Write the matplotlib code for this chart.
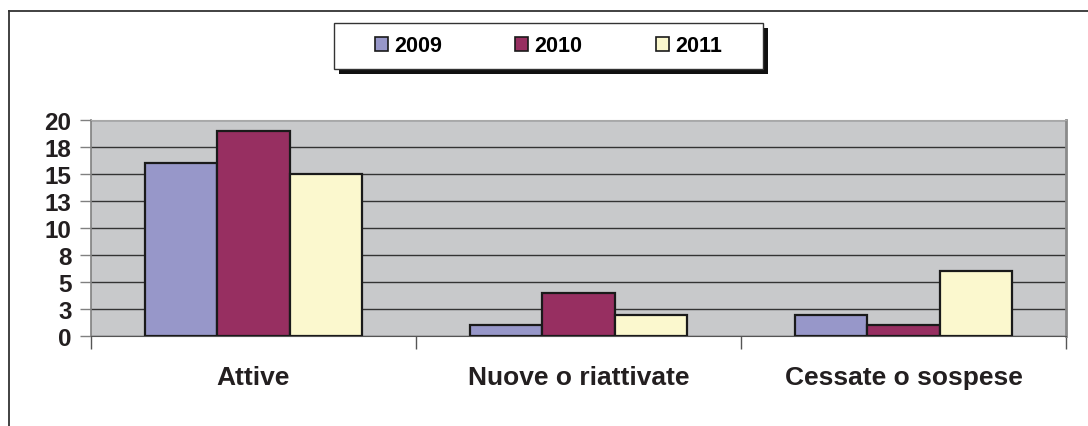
import numpy as np
import matplotlib
matplotlib.use("Agg")
import matplotlib.pyplot as plt
from matplotlib.patches import Rectangle
from matplotlib.lines import Line2D

categories = ["Attive", "Nuove o riattivate", "Cessate o sospese"]
years = ["2009", "2010", "2011"]
v2009 = [16, 1, 2]
v2010 = [19, 4, 1]
v2011 = [15, 2, 6]
ytick_vals = [0, 2.5, 5, 7.5, 10, 12.5, 15, 17.5, 20]
ytick_labels = ["0", "3", "5", "8", "10", "13", "15", "18", "20"]
colors = ["#9797C9", "#972F61", "#FBF8CE"]

plt.rcParams["font.family"] = ["Liberation Sans", "DejaVu Sans"]
plt.rcParams["font.weight"] = "bold"

W, H = 1088, 427
fig = plt.figure(figsize=(W / 100, H / 100), dpi=100)
fig.patch.set_facecolor("white")

# outer frame (left and top only visible)
fig.add_artist(Line2D([9 / W, 9 / W], [0, 1 - 12 / H], transform=fig.transFigure,
                      color="#333333", lw=1.3))
fig.add_artist(Line2D([9 / W, 1], [1 - 12 / H, 1 - 12 / H], transform=fig.transFigure,
                      color="#333333", lw=1.3))

ax = fig.add_axes([91 / W, 1 - 337.3 / H, (1066 - 91) / W, (337.3 - 120.7) / H])
ax.set_facecolor("#C8C9CB")

x = np.arange(len(categories))
w = 0.222
series = [v2009, v2010, v2011]
bars = []
for i, vals in enumerate(series):
    b = ax.bar(x + (i - 1) * w, vals, w, color=colors[i], edgecolor="#1a1a1a",
               linewidth=1.6, label=years[i], zorder=3)
    bars.append(b)

ax.set_xlim(-0.5, 2.5)
ax.set_ylim(0, 20)
ax.set_yticks(ytick_vals)
ax.set_yticklabels(ytick_labels, fontsize=17.5, fontweight="bold", color="#231F20")
ax.yaxis.grid(True, color="#333333", lw=1.0, zorder=1)
ax.set_axisbelow(True)
ax.tick_params(axis="y", length=8, width=1, color="#808080", pad=6)

ax.set_xticks(x)
ax.set_xticklabels(categories, fontsize=19, fontweight="bold", color="#231F20")
ax.tick_params(axis="x", which="major", length=0, pad=21)
ax.set_xticks([-0.5, 0.5, 1.5, 2.5], minor=True)
ax.tick_params(axis="x", which="minor", length=9, width=1, color="#555555")

ax.spines["top"].set_color("#A8A8A8")
ax.spines["right"].set_color("#8A8A8A")
ax.spines["right"].set_linewidth(2)
ax.spines["left"].set_color("#808080")
ax.spines["left"].set_linewidth(1.2)
ax.spines["bottom"].set_color("#555555")

# legend box with shadow
lx0, ly0, lx1, ly1 = 334, 24, 763, 70
fig.add_artist(Rectangle(((lx0 + 5) / W, 1 - (ly1 + 5) / H), (lx1 - lx0) / W,
                         (ly1 - ly0) / H, transform=fig.transFigure,
                         facecolor="#111111", edgecolor="none", zorder=1))
fig.add_artist(Rectangle((lx0 / W, 1 - ly1 / H), (lx1 - lx0) / W, (ly1 - ly0) / H,
                         transform=fig.transFigure, facecolor="white",
                         edgecolor="#333333", lw=1, zorder=2))
leg = fig.legend(handles=bars, labels=years, loc="center", ncol=3,
                 bbox_to_anchor=((lx0 + lx1) / 2 / W, 1 - (ly0 + ly1) / 2 / H),
                 frameon=False, prop={"size": 15.5, "weight": "bold"},
                 handlelength=0.6, handleheight=0.6, handletextpad=0.3,
                 columnspacing=3.4)
leg.set_zorder(3)
for h in leg.legend_handles:
    h.set_linewidth(1.2)

fig.savefig("out.png", dpi=100)
